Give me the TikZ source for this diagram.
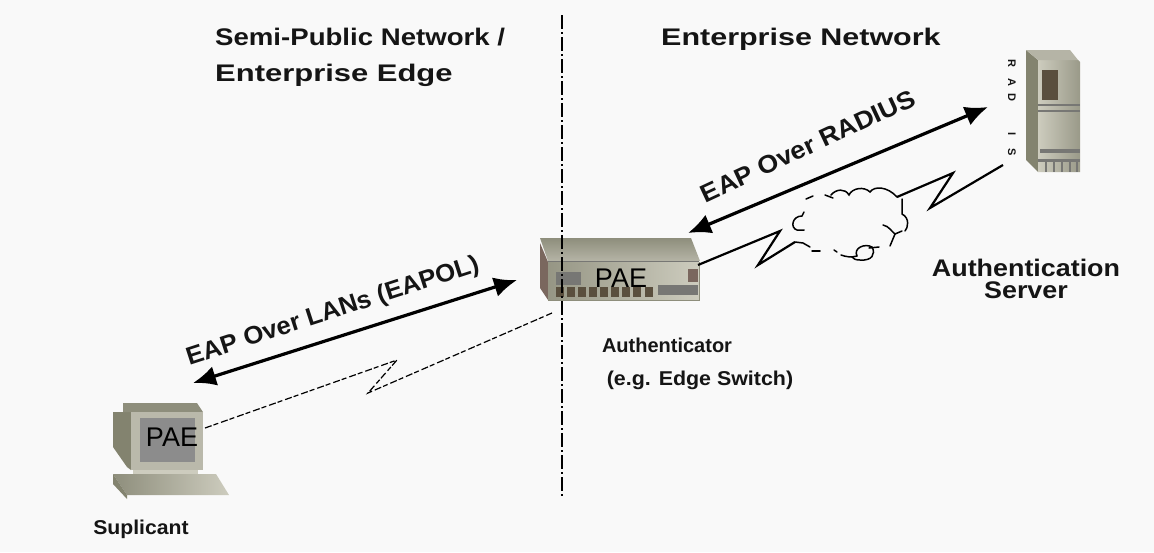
\documentclass[tikz,border=0pt]{standalone}
\usepackage{fontspec}
\setmainfont{Liberation Sans}
\usetikzlibrary{arrows.meta}
\definecolor{bgc}{HTML}{F9F9F9}
\definecolor{inkc}{HTML}{151515}
\definecolor{stone}{HTML}{B5B4A6}
\definecolor{stonedark}{HTML}{8E8E7C}
\definecolor{stonelight}{HTML}{CDCCBE}
\definecolor{sidegreen}{HTML}{83836F}
\definecolor{brownc}{HTML}{7A675E}
\definecolor{doorc}{HTML}{5A4F3E}
\definecolor{slatec}{HTML}{777774}
\definecolor{screenc}{HTML}{8C8C8C}
\tikzset{
  x=1pt,y=-1pt,
  title/.style={font=\bfseries\fontsize{24}{24}\selectfont,text=inkc,inner sep=0pt,anchor=base west},
  caption/.style={font=\bfseries\fontsize{20}{20}\selectfont,text=inkc,inner sep=0pt,anchor=base},
  bigcaption/.style={font=\bfseries\fontsize{24}{24}\selectfont,text=inkc,inner sep=0pt,anchor=base},
  slanted/.style={font=\bfseries\fontsize{25}{25}\selectfont,text=inkc,inner sep=0pt},
  paetext/.style={font=\fontsize{27}{27}\selectfont,text=black,inner sep=0pt},
  bigarrow/.style={line width=3.2pt,black,{Latex[length=23pt,width=20pt]}-{Latex[length=23pt,width=20pt]}},
  wire/.style={line width=2.2pt,black,line join=miter},
  dashwire/.style={line width=1.2pt,black,dash pattern=on 7pt off 2pt on 5pt off 3pt},
  cloudline/.style={line width=1.5pt,black,line cap=round},
  divider/.style={line width=1.1pt,black,dash pattern=on 14pt off 3pt on 2pt off 3pt},
  radiustext/.style={font=\bfseries\fontsize{11}{11}\selectfont,text=inkc,inner sep=0pt,rotate=-90}
}
\begin{document}
\begin{tikzpicture}
\useasboundingbox (0,0) rectangle (1154,552);
\fill[bgc] (0,0) rectangle (1154,552);

% divider
\coordinate (divtop) at (562,15);
\coordinate (divbot) at (562,497);

% switch
\shade[top color=stonedark,bottom color=stone] (540,238) -- (691,238) -- (700,261) -- (548,261) -- cycle;
\fill[brownc] (540,243) -- (548,262) -- (548,300) -- (540,288) -- cycle;
\shade[left color=stonedark!80!stone,right color=stonelight] (548,262) rectangle (699,300);
\draw[slatec,line width=1pt] (548,261.5) -- (699,261.5);
\draw[stonedark,line width=.8pt] (699,262) -- (699,300) -- (548,300);
\fill[slatec] (556,272) rectangle (581,285);
\fill[slatec] (658,285) rectangle (698,295);
\fill[brownc] (688,269) rectangle (698,282);
\foreach \px in {556,567,578,589,600,611,622,633,645}
  \fill[doorc] (\px,287) rectangle +(8,10);
\node[paetext] (swpae) at (621,278) {PAE};

% server
\fill[sidegreen] (1026,50) -- (1038,60) -- (1038,172) -- (1026,160) -- cycle;
\shade[left color=stonelight,right color=stonedark!70!stone] (1038,60) -- (1078,60) -- (1080,62) -- (1080,172) -- (1038,172) -- cycle;
\fill[stone] (1026,50) -- (1070,50) -- (1078,60) -- (1038,60) -- cycle;
\fill[doorc] (1042,70) rectangle (1058,100);
\fill[slatec] (1038,104) rectangle (1080,106);
\fill[slatec] (1038,110) rectangle (1080,112);
\fill[slatec] (1040,149) rectangle (1080,153);
\fill[slatec] (1038,159) rectangle (1080,162);
\foreach \px in {1045,1053,1061,1069,1076}
  \fill[slatec] (\px,162) rectangle +(2,10);
\node[radiustext] (radr) at (1012,63) {R};
\node[radiustext] (rada) at (1012,82) {A};
\node[radiustext] (radd) at (1012,97) {D};
\node[radiustext] (radi) at (1012,134) {I};
\node[radiustext] (rads) at (1012,152) {S};

% pc
\fill[sidegreen] (113,412) -- (131,412) -- (131,470) -- (127,467) -- (113,447) -- cycle;
\fill[stonedark] (123,403) -- (197,403) -- (203,412) -- (123,412) -- cycle;
\fill[stone!80!stonelight] (131,412) rectangle (203,470);
\fill[screenc] (140,418) rectangle (195,462);
\fill[stonelight] (133,470) rectangle (198,474);
\shade[left color=stonedark,right color=stonelight] (113,474) -- (216,474) -- (229,495) -- (127,495) -- cycle;
\fill[sidegreen] (113,474) -- (127,495) -- (127,499) -- (113,484) -- cycle;
\node[paetext] (pcpae) at (172,437) {PAE};

% anchors
\coordinate (pcport) at (205,428);
\coordinate (swleft) at (552,313);
\coordinate (boltaa) at (397,360);
\coordinate (boltab) at (368,393);
\coordinate (swright) at (698,265);
\coordinate (boltba) at (780,231);
\coordinate (boltbb) at (758,265);
\coordinate (cloudw) at (795,242);
\coordinate (cloude) at (897,197);
\coordinate (boltca) at (953,173);
\coordinate (boltcb) at (930,208);
\coordinate (srvport) at (1003,165);
\coordinate (eapl) at (193,383);
\coordinate (eapr) at (517,280);
\coordinate (radl) at (688,233);
\coordinate (radtip) at (988,107);

% links
\draw[divider] (divtop) -- (divbot);
\draw[bigarrow] (eapl) -- (eapr);
\draw[bigarrow] (radl) -- (radtip);
\draw[dashwire] (pcport) -- (boltaa) -- (boltab) -- (swleft);
\draw[wire] (swright) -- (boltba) -- (boltbb) -- (cloudw);
\draw[wire] (cloude) -- (boltca) -- (boltcb) -- (srvport);

% cloud
\draw[cloudline] (806,199) -- (813,196);
\draw[cloudline] (825,195) -- (833,198);
\draw[cloudline] (831,195) .. controls (836,189) and (845,188) .. (849,195)
  .. controls (852,188) and (864,186) .. (870,192)
  .. controls (874,186) and (887,186) .. (897,197);
\draw[cloudline] (902,199) -- (902,214) .. controls (910,218) and (908,228) .. (905,231);
\draw[cloudline] (883,225) .. controls (889,226) and (892,232) .. (895,234) -- (902,231);
\draw[cloudline] (895,234) -- (890,246);
\draw[cloudline] (879,247) -- (869,248);
\draw[cloudline] (834,250) -- (837,252);
\draw[cloudline] (841,255) .. controls (846,257) and (852,257) .. (852,257) -- (857,256);
\draw[cloudline] (857,256) .. controls (853,248) and (865,243) .. (872,247)
  .. controls (876,254) and (872,261) .. (860,260) .. controls (856,260) and (853,259) .. (852,257);
\draw[cloudline] (812,251) -- (820,251);
\draw[cloudline] (795,242) -- (803,243) -- (810,247);
\draw[cloudline] (804,212) -- (802,216) .. controls (792,216) and (790,228) .. (797,230) -- (804,230);

% text
\node[title] (semi) at (215,45) {\scalebox{1.15}[1]{Semi-Public Network /}};
\node[title] (edge) at (215,81) {\scalebox{1.29}[1]{Enterprise Edge}};
\node[title] (ent) at (661,45) {\scalebox{1.27}[1]{Enterprise Network}};
\node[slanted,rotate=18] (lbleapol) at (333,312) {\scalebox{1.03}[1]{EAP Over LANs (EAPOL)}};
\node[slanted,rotate=25] (lblradius) at (808,146) {\scalebox{1.07}[1]{EAP Over RADIUS}};
\node[caption] (auth1) at (667,352) {Authenticator};
\node[caption] (auth2) at (700,385) {\scalebox{1.07}[1]{(e.g. Edge Switch)}};
\node[bigcaption] (srv1) at (1026,276) {\scalebox{1.12}[1]{Authentication}};
\node[bigcaption] (srv2) at (1026,298) {\scalebox{1.12}[1]{Server}};
\node[caption] (supl) at (141,534) {\scalebox{1.06}[1]{Suplicant}};
\end{tikzpicture}
\end{document}
